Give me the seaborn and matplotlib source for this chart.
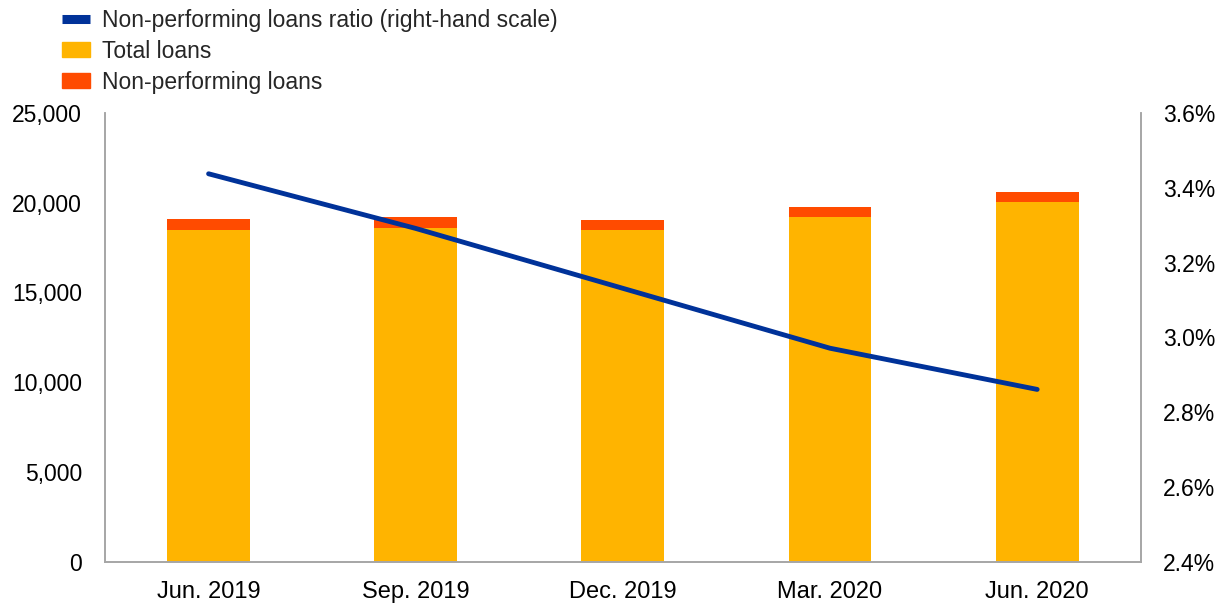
import matplotlib
matplotlib.use("Agg")
import matplotlib.pyplot as plt
from matplotlib.patches import Patch
from matplotlib.lines import Line2D
from matplotlib.ticker import FuncFormatter
import numpy as np
import pandas as pd
import seaborn as sns

# Data
quarters = ["Jun. 2019", "Sep. 2019", "Dec. 2019", "Mar. 2020", "Jun. 2020"]
total_loans = [18450, 18570, 18450, 19220, 20040]
npl = [650, 650, 570, 530, 570]
npl_ratio = [3.437, 3.291, 3.131, 2.971, 2.861]

ORANGE = "#FFB400"
RED = "#FF4B00"
BLUE = "#003299"
GREY = "#A6A6A6"

sns.set_theme(style="white")
plt.rcParams["font.family"] = ["Liberation Sans", "DejaVu Sans"]

df = pd.DataFrame({"quarter": quarters, "total": total_loans, "npl": npl, "ratio": npl_ratio})

fig = plt.figure(figsize=(12.27, 6.03), dpi=100)
ax = fig.add_axes([0.0856, 0.068, 0.8441, 0.745])

sns.barplot(data=df, x="quarter", y="total", color=ORANGE, width=0.4,
            saturation=1, linewidth=0, ax=ax)
sns.barplot(data=df, x="quarter", y="npl", color=RED, width=0.4,
            saturation=1, linewidth=0, bottom=df["total"], ax=ax)

ax.set_xlim(-0.5, 4.5)
ax.set_ylim(0, 25000)
ax.set_yticks(np.arange(0, 25001, 5000))
ax.yaxis.set_major_formatter(FuncFormatter(lambda v, p: f"{int(v):,}"))
ax.set_xlabel("")
ax.set_ylabel("")

ax2 = ax.twinx()
sns.lineplot(x=np.arange(len(quarters)), y=df["ratio"], color=BLUE,
             linewidth=3.5, ax=ax2)
ax2.set_ylim(2.4, 3.6)
ax2.set_yticks(np.arange(2.4, 3.61, 0.2))
ax2.yaxis.set_major_formatter(FuncFormatter(lambda v, p: f"{v:.1f}%"))
ax2.set_ylabel("")
ax2.set_xlim(-0.5, 4.5)

for a in (ax, ax2):
    a.spines["top"].set_visible(False)
    for s in ("left", "right", "bottom"):
        a.spines[s].set_color(GREY)
        a.spines[s].set_linewidth(1.2)
    a.tick_params(axis="both", length=0, colors="#000000")
ax.tick_params(axis="y", pad=16.5, labelsize=16.5)
ax.tick_params(axis="x", pad=14, labelsize=17)
ax2.tick_params(axis="y", pad=16, labelsize=16.5)

handles = [Line2D([], [], color=BLUE, linewidth=6.5, solid_capstyle="butt"),
           Patch(color=ORANGE), Patch(color=RED)]
labels = ["Non-performing loans ratio (right-hand scale)", "Total loans",
          "Non-performing loans"]
fig.legend(handles, labels, loc="upper left", bbox_to_anchor=(0.034, 1.02),
           frameon=False, fontsize=16.5, handlelength=1.22, handleheight=0.61,
           handletextpad=0.52, labelspacing=0.35)

fig.savefig("out.png", dpi=100)
